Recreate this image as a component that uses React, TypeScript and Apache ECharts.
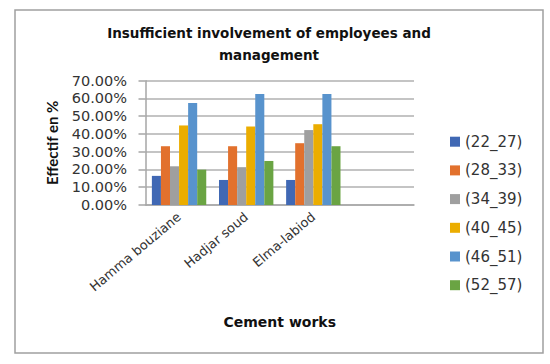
import React, { useEffect, useRef } from "react";
import * as echarts from "echarts";

const categories = ["Hamma bouziane", "Hadjar soud", "Elma-labiod", ""];
const seriesNames = ["(22_27)", "(28_33)", "(34_39)", "(40_45)", "(46_51)", "(52_57)"];
const s22_27 = [0.164, 0.141, 0.141, null];
const s28_33 = [0.331, 0.331, 0.348, null];
const s34_39 = [0.218, 0.213, 0.422, null];
const s40_45 = [0.448, 0.442, 0.455, null];
const s46_51 = [0.575, 0.625, 0.625, null];
const s52_57 = [0.199, 0.248, 0.331, null];
const seriesValues = [s22_27, s28_33, s34_39, s40_45, s46_51, s52_57];
const colors = ["#4068B4", "#E2712D", "#9F9F9F", "#EBAD00", "#5893CD", "#6AA443"];

export default function App() {
  const ref = useRef<HTMLDivElement>(null);
  useEffect(() => {
    document.body.style.margin = "0";
    if (!ref.current) return;
    const chart = echarts.init(ref.current, null, { renderer: "svg" });
    chart.setOption({
      animation: false,
      color: colors,
      title: {
        text: "Insufficient involvement of employees and\nmanagement",
        left: 264,
        top: 17,
        textAlign: "center",
        textStyle: {
          fontFamily: "DejaVu Sans",
          fontWeight: "bold",
          fontSize: 13.5,
          lineHeight: 22,
          color: "#111",
        },
      },
      graphic: [
        {
          type: "rect",
          shape: { x: 15, y: 10, width: 528, height: 343 },
          style: { fill: "none", stroke: "#a0a0a0", lineWidth: 1.5 },
          silent: true,
        },
      ],
      legend: {
        orient: "vertical",
        left: 445,
        top: 127.7,
        itemWidth: 10,
        itemHeight: 10,
        itemGap: 10.7,
        icon: "rect",
        data: seriesNames,
        textStyle: {
          fontFamily: "DejaVu Sans",
          fontSize: 15,
          lineHeight: 18,
          color: "#333",
        },
      },
      grid: { left: 145.5, right: 136, top: 80.7, bottom: 159 },
      xAxis: {
        type: "category",
        data: categories,
        name: "Cement works",
        nameLocation: "middle",
        nameGap: 110,
        nameTextStyle: {
          fontFamily: "DejaVu Sans",
          fontWeight: "bold",
          fontSize: 14,
          color: "#111",
          verticalAlign: "top",
        },
        axisLine: { show: true, lineStyle: { color: "#a6a6a6", width: 1.5 } },
        axisTick: { show: false },
        axisLabel: {
          rotate: 40,
          margin: 10,
          interval: 0,
          fontFamily: "DejaVu Sans",
          fontSize: 13,
          color: "#333",
        },
      },
      yAxis: {
        type: "value",
        min: 0,
        max: 0.7,
        interval: 0.1,
        name: "Effectif en %",
        nameLocation: "middle",
        nameGap: 86,
        nameRotate: 90,
        nameTextStyle: {
          fontFamily: "Lato",
          fontWeight: "bold",
          fontSize: 15,
          color: "#111",
        },
        axisLine: { show: true, lineStyle: { color: "#a6a6a6", width: 1.5 } },
        axisTick: { show: true, length: 7, lineStyle: { color: "#a6a6a6", width: 1.5 } },
        splitLine: { show: true, lineStyle: { color: "#b0b0b0", width: 1.5 } },
        axisLabel: {
          margin: 18.5,
          fontFamily: "DejaVu Sans",
          fontSize: 14.5,
          color: "#333",
          formatter: (v: number) => (v * 100).toFixed(2) + "%",
        },
      },
      series: seriesNames.map((name, i) => ({
        name,
        type: "bar",
        data: seriesValues[i],
        barGap: "0%",
        barCategoryGap: "19%",
      })),
    });
    return () => chart.dispose();
  }, []);
  return <div ref={ref} style={{ width: 550, height: 364 }} />;
}
